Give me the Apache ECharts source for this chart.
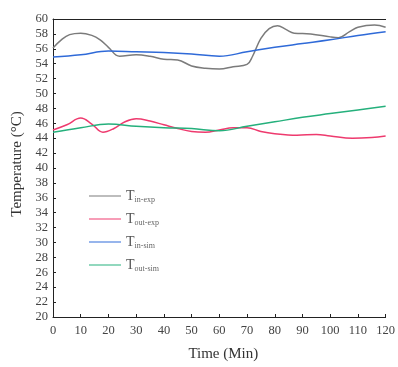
<!DOCTYPE html>
<html>
<head>
<meta charset="utf-8">
<script src="https://cdn.jsdelivr.net/npm/echarts@6/dist/echarts.min.js"></script>
<style>
  html, body { margin: 0; padding: 0; background: #fff; }
  #chart { width: 398px; height: 367px; }
</style>
</head>
<body>
<div id="chart"></div>
<script>
// Inlet / outlet temperatures, experiment vs. simulation (time in minutes)
const inExpTime = [0, 3, 6, 10, 14, 17, 20, 24, 30, 35, 40, 45, 50, 55, 60, 65, 70, 72, 75, 78, 81, 84, 87, 93, 100, 103, 107, 110, 116, 120];
const inExpTemp = [56.1, 57.2, 57.9, 58.1, 57.8, 57.2, 56.2, 55.0, 55.2, 55.0, 54.6, 54.5, 53.7, 53.4, 53.3, 53.6, 53.9, 55.0, 57.4, 58.7, 59.1, 58.6, 58.1, 58.0, 57.6, 57.5, 58.3, 58.9, 59.2, 58.9];

const outExpTime = [0, 5, 10, 14, 18, 22, 26, 30, 35, 40, 45, 50, 55, 60, 65, 70, 75, 80, 88, 95, 100, 108, 115, 120];
const outExpTemp = [45.1, 45.8, 46.7, 45.9, 44.8, 45.3, 46.2, 46.6, 46.3, 45.8, 45.3, 44.9, 44.8, 45.1, 45.4, 45.4, 44.9, 44.6, 44.4, 44.5, 44.3, 44.0, 44.1, 44.3];

const simTime = [0, 10, 20, 30, 40, 50, 60, 70, 80, 90, 100, 110, 120];
const inSimTemp = [54.9, 55.2, 55.7, 55.6, 55.5, 55.3, 55.0, 55.6, 56.2, 56.7, 57.2, 57.8, 58.3];
const outSimTemp = [44.8, 45.4, 45.9, 45.6, 45.4, 45.3, 45.0, 45.6, 46.2, 46.8, 47.3, 47.8, 48.3];

const seriesNames = ['in-exp', 'out-exp', 'in-sim', 'out-sim'];
const seriesColors = ['#7b7b7b', '#ee3a6e', '#2f6ad8', '#25b07c'];

const pairs = (xs, ys) => xs.map((x, i) => [x, ys[i]]);
const dataSets = [
  pairs(inExpTime, inExpTemp),
  pairs(outExpTime, outExpTemp),
  pairs(simTime, inSimTemp),
  pairs(simTime, outSimTemp)
];

const serif = 'Liberation Serif, Times New Roman, serif';
const labelColor = '#444';
const axisColor = '#222';

const chart = echarts.init(document.getElementById('chart'));
chart.setOption({
  animation: false,
  grid: { left: 53, right: 9, top: 19, bottom: 50 },
  legend: {
    orient: 'vertical',
    left: 84,
    top: 184,
    itemWidth: 32,
    itemHeight: 10,
    itemGap: 8,
    icon: 'path://M0,4.5 L32,4.5 L32,5.5 L0,5.5 Z',
    data: seriesNames,
    formatter: name => '{t|T}{s|' + name + '}',
    textStyle: {
      rich: {
        t: { fontFamily: serif, fontSize: 14, color: '#555' },
        s: { fontFamily: serif, fontSize: 8, color: '#666', padding: [8, 0, 0, 0] }
      }
    }
  },
  xAxis: [
    {
      type: 'value',
      min: 0, max: 120, interval: 10,
      name: 'Time (Min)',
      nameLocation: 'middle',
      nameGap: 30,
      nameTextStyle: { fontFamily: serif, fontSize: 15, color: '#333', padding: [0, 0, 0, 8] },
      axisLine: { lineStyle: { color: axisColor, width: 1 } },
      axisTick: { inside: true, length: 3, lineStyle: { color: axisColor } },
      axisLabel: { fontFamily: serif, fontSize: 12.5, color: labelColor, margin: 7 },
      splitLine: { show: false }
    },
    {
      type: 'value',
      position: 'top',
      min: 0, max: 120,
      axisLine: { show: true, lineStyle: { color: axisColor, width: 1 } },
      axisTick: { show: false },
      axisLabel: { show: false },
      splitLine: { show: false }
    }
  ],
  yAxis: {
    type: 'value',
    min: 20, max: 60, interval: 2,
    name: 'Temperature (°C)',
    nameLocation: 'middle',
    nameGap: 26,
    nameTextStyle: { fontFamily: serif, fontSize: 15, color: '#333', padding: [0, 0, 0, 8] },
    axisLine: { show: true, lineStyle: { color: axisColor, width: 1 } },
    axisTick: { inside: true, length: 3, lineStyle: { color: axisColor } },
    axisLabel: { fontFamily: serif, fontSize: 12.5, color: labelColor, margin: 5 },
    splitLine: { show: false }
  },
  series: seriesNames.map((name, i) => ({
    name: name,
    type: 'line',
    xAxisIndex: 0,
    data: dataSets[i],
    smooth: 0.4,
    showSymbol: false,
    lineStyle: { color: seriesColors[i], width: 1.5 },
    itemStyle: { color: seriesColors[i] }
  }))
});
</script>
</body>
</html>
